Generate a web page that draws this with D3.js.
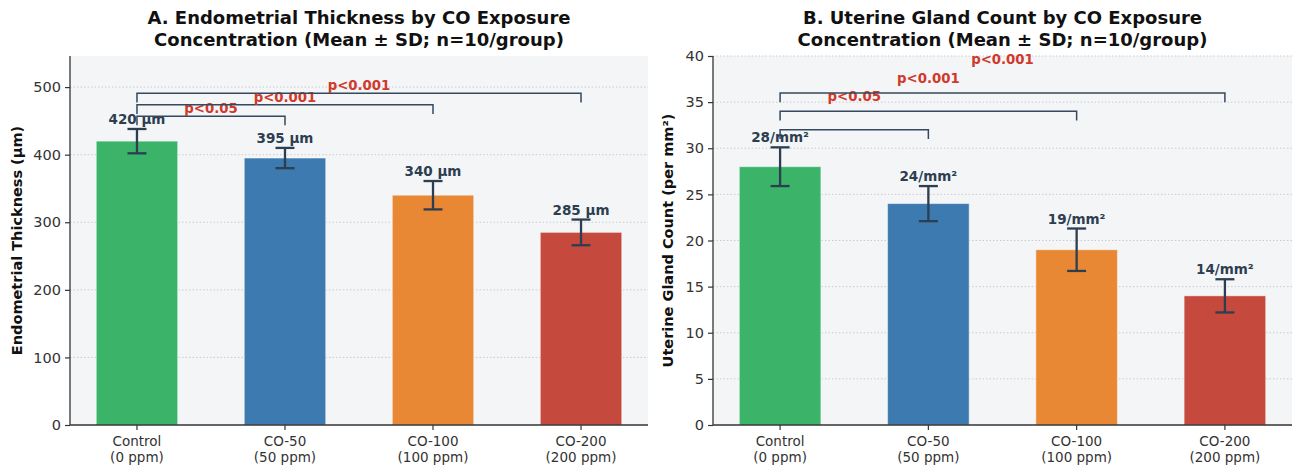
<!DOCTYPE html>
<html>
<head>
<meta charset="utf-8">
<script src="https://cdn.jsdelivr.net/npm/d3@7"></script>
<style>
  body { margin: 0; background: #fff; }
  svg { font-family: "DejaVu Sans", sans-serif; }
  .axis path, .axis line { stroke: #333; }
  .axis text { fill: #333; }
</style>
</head>
<body>
<svg id="chart"></svg>
<script>
// data
const groups = ["Control", "CO-50", "CO-100", "CO-200"];
const doses = ["(0 ppm)", "(50 ppm)", "(100 ppm)", "(200 ppm)"];
const barColors = ["#3bb46a", "#3c7ab0", "#e88834", "#c5493c"];

const thicknessMean = [420, 395, 340, 285];
const thicknessSD = [18, 15, 21, 19];
const thicknessTicks = [0, 100, 200, 300, 400, 500];
const thicknessLabels = ["420 µm", "395 µm", "340 µm", "285 µm"];

const glandMean = [28, 24, 19, 14];
const glandSD = [2.1, 1.9, 2.3, 1.8];
const glandTicks = [0, 5, 10, 15, 20, 25, 30, 35, 40];
const glandLabels = ["28/mm²", "24/mm²", "19/mm²", "14/mm²"];

const comparisons = [[0, 1], [0, 2], [0, 3]];
const pValues = ["p<0.05", "p<0.001", "p<0.001"];
const thicknessBracketLevels = [457, 474, 491];
const glandBracketLevels = [32, 34, 36];

let config = {
  svg: { width: 1296, height: 471 },
  top: 56,
  bottom: 425
};

let svg = d3.select("svg#chart")
  .attr("width", config.svg.width)
  .attr("height", config.svg.height);

drawPanel({
  x0: 70, x1: 648,
  ymax: 546,
  mean: thicknessMean, sd: thicknessSD, ticks: thicknessTicks,
  labels: thicknessLabels, levels: thicknessBracketLevels, pOffset: 3,
  title: ["A. Endometrial Thickness by CO Exposure", "Concentration (Mean ± SD; n=10/group)"],
  ylabel: "Endometrial Thickness (µm)", ylabelX: 17
});

drawPanel({
  x0: 713, x1: 1292,
  ymax: 40,
  mean: glandMean, sd: glandSD, ticks: glandTicks,
  labels: glandLabels, levels: glandBracketLevels, pOffset: 3,
  title: ["B. Uterine Gland Count by CO Exposure", "Concentration (Mean ± SD; n=10/group)"],
  ylabel: "Uterine Gland Count (per mm²)", ylabelX: 668
});

function drawPanel(p) {
  let x = d3.scaleBand()
    .domain(groups)
    .range([p.x0, p.x1])
    .paddingInner(0.45)
    .paddingOuter(0.1775);

  let y = d3.scaleLinear()
    .domain([0, p.ymax])
    .range([config.bottom, config.top]);

  let g = svg.append("g");

  g.append("rect")
    .attr("x", p.x0)
    .attr("y", config.top)
    .attr("width", p.x1 - p.x0)
    .attr("height", config.bottom - config.top)
    .attr("fill", "#f4f5f7");

  // grid
  g.append("g")
    .selectAll("line")
    .data(p.ticks.filter(t => t > 0))
    .enter()
    .append("line")
    .attr("x1", p.x0)
    .attr("x2", p.x1)
    .attr("y1", d => y(d))
    .attr("y2", d => y(d))
    .attr("stroke", "#c9ccd1")
    .attr("stroke-width", 1)
    .attr("stroke-dasharray", "1.5,2");

  // bars
  g.append("g")
    .selectAll("rect")
    .data(groups)
    .enter()
    .append("rect")
    .attr("x", d => x(d))
    .attr("y", (d, i) => y(p.mean[i]))
    .attr("width", x.bandwidth())
    .attr("height", (d, i) => y(0) - y(p.mean[i]))
    .attr("fill", (d, i) => barColors[i])
    .attr("stroke", "#ffffff")
    .attr("stroke-opacity", 0.45)
    .attr("stroke-width", 1);

  // error bars
  let cx = d => x(d) + x.bandwidth() / 2;
  let err = g.append("g")
    .attr("stroke", "#2c3e50")
    .attr("stroke-width", 2.3);

  groups.forEach((d, i) => {
    let hi = y(p.mean[i] + p.sd[i]);
    let lo = y(p.mean[i] - p.sd[i]);
    err.append("line").attr("x1", cx(d)).attr("x2", cx(d)).attr("y1", hi).attr("y2", lo);
    err.append("line").attr("x1", cx(d) - 9.5).attr("x2", cx(d) + 9.5).attr("y1", hi).attr("y2", hi);
    err.append("line").attr("x1", cx(d) - 9.5).attr("x2", cx(d) + 9.5).attr("y1", lo).attr("y2", lo);
  });

  // value labels
  g.append("g")
    .selectAll("text")
    .data(groups)
    .enter()
    .append("text")
    .attr("x", d => cx(d))
    .attr("y", (d, i) => y(p.mean[i] + p.sd[i]) - 5)
    .attr("text-anchor", "middle")
    .attr("font-size", "13.5px")
    .attr("font-weight", "bold")
    .attr("fill", "#2c3e50")
    .text((d, i) => p.labels[i]);

  // significance brackets
  let drop = p.ymax * 0.025;
  comparisons.forEach((c, k) => {
    let a = cx(groups[c[0]]), b = cx(groups[c[1]]);
    let lvl = p.levels[k];
    g.append("path")
      .attr("d", d3.line()([[a, y(lvl - drop)], [a, y(lvl)], [b, y(lvl)], [b, y(lvl - drop)]]))
      .attr("fill", "none")
      .attr("stroke", "#34495e")
      .attr("stroke-width", 1.5);
    g.append("text")
      .attr("x", (a + b) / 2)
      .attr("y", y(lvl + p.pOffset) - 1)
      .attr("text-anchor", "middle")
      .attr("font-size", "13.3px")
      .attr("font-weight", "bold")
      .attr("fill", "#d03a2c")
      .text(pValues[k]);
  });

  // axes
  let yAxis = d3.axisLeft(y).tickValues(p.ticks).tickSize(5).tickPadding(4).tickSizeOuter(0);
  let gy = g.append("g")
    .attr("class", "axis")
    .attr("transform", translate(p.x0, 0))
    .call(yAxis);
  gy.select(".domain").attr("d", "M0," + config.top + "V" + config.bottom).attr("stroke-width", 1.3);
  gy.selectAll("text").attr("font-size", "14.5px").attr("font-family", "DejaVu Sans");
  gy.selectAll(".tick line").attr("stroke-width", 1.2);

  let xAxis = d3.axisBottom(x).tickSize(5).tickSizeOuter(0).tickFormat("");
  let gx = g.append("g")
    .attr("class", "axis")
    .attr("transform", translate(0, config.bottom))
    .call(xAxis);
  gx.select(".domain").attr("d", "M" + p.x0 + ",0H" + p.x1).attr("stroke-width", 1.3);
  gx.selectAll(".tick line").attr("stroke-width", 1.2);

  let xl = g.append("g")
    .selectAll("text")
    .data(groups)
    .enter()
    .append("text")
    .attr("x", d => cx(d))
    .attr("y", 446)
    .attr("text-anchor", "middle")
    .attr("font-size", "13.5px")
    .attr("fill", "#333");
  xl.append("tspan").attr("x", d => cx(d)).text(d => d);
  xl.append("tspan").attr("x", d => cx(d)).attr("dy", 15.5).text((d, i) => doses[i]);

  // y label
  g.append("text")
    .attr("transform", translate(p.ylabelX, (config.top + config.bottom) / 2) + " rotate(-90)")
    .attr("text-anchor", "middle")
    .attr("dy", "0.35em")
    .attr("font-size", "14.5px")
    .attr("font-weight", "bold")
    .attr("fill", "#111")
    .text(p.ylabel);

  // title
  let t = g.append("text")
    .attr("x", (p.x0 + p.x1) / 2)
    .attr("y", 24)
    .attr("text-anchor", "middle")
    .attr("font-size", "18px")
    .attr("font-weight", "bold")
    .attr("fill", "#111");
  t.append("tspan").attr("x", (p.x0 + p.x1) / 2).text(p.title[0]);
  t.append("tspan").attr("x", (p.x0 + p.x1) / 2).attr("dy", 22).text(p.title[1]);
}

function translate(x, y) {
  return 'translate(' + x + ',' + y + ')';
}
</script>
</body>
</html>
